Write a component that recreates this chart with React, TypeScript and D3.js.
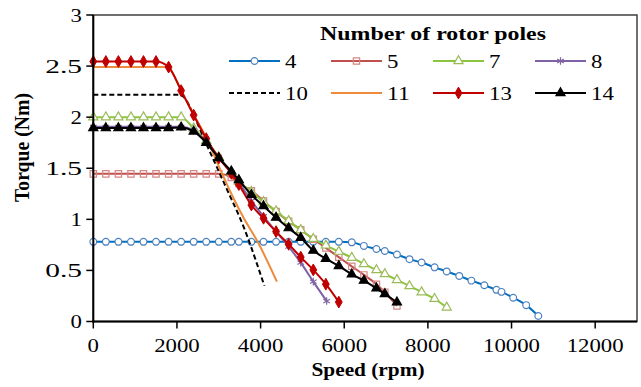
import * as d3 from "d3";

const W = 641;
const H = 387;
const margin = { left: 93.3, top: 15, right: 4, bottom: 65.5 };

const FONT = "Liberation Serif, Liberation Sans, DejaVu Sans, serif";

const xTicks = [0, 2000, 4000, 6000, 8000, 10000, 12000];
const yTicks = [0, 0.5, 1, 1.5, 2, 2.5, 3];
const yTickLabels = ["0", "0.5", "1", "1.5", "2", "2.5", "3"];

// [speed (rpm), torque (Nm)]
const poles4: [number, number][] = [
  [0, 0.78], [300, 0.78], [600, 0.78], [900, 0.78], [1200, 0.78], [1500, 0.78],
  [1800, 0.78], [2100, 0.78], [2400, 0.78], [2700, 0.78], [3000, 0.78], [3300, 0.78],
  [3480, 0.78], [3780, 0.78], [4070, 0.78], [4370, 0.78], [4670, 0.78], [4960, 0.78],
  [5260, 0.78], [5560, 0.78], [5870, 0.78], [6180, 0.775], [6470, 0.74], [6770, 0.71],
  [6970, 0.69], [7260, 0.655], [7560, 0.61], [7850, 0.577], [8160, 0.53], [8450, 0.49],
  [8750, 0.446], [9040, 0.4], [9350, 0.355], [9640, 0.31], [9760, 0.29], [10040, 0.233],
  [10350, 0.16], [10640, 0.054],
];

const poles5: [number, number][] = [
  [0, 1.445], [300, 1.445], [600, 1.445], [900, 1.445], [1200, 1.445], [1500, 1.445],
  [1800, 1.445], [2100, 1.445], [2400, 1.445], [2700, 1.445], [3000, 1.445], [3300, 1.41],
  [3480, 1.35], [3780, 1.28], [4070, 1.18], [4370, 1.077], [4670, 0.98], [4960, 0.897],
  [5260, 0.806], [5560, 0.72], [5870, 0.63], [6180, 0.54], [6470, 0.456], [6770, 0.365],
  [6970, 0.287], [7260, 0.152],
];

const poles7: [number, number][] = [
  [0, 2.0], [300, 2.0], [600, 2.0], [900, 2.0], [1200, 2.0], [1500, 2.0], [1800, 2.0],
  [2100, 2.0], [2400, 1.89], [2700, 1.77], [3000, 1.61], [3300, 1.46], [3480, 1.37],
  [3780, 1.27], [4070, 1.17], [4370, 1.08], [4670, 0.985], [4960, 0.897], [5260, 0.81],
  [5560, 0.745], [5870, 0.684], [6180, 0.625], [6470, 0.563], [6770, 0.504], [6970, 0.465],
  [7260, 0.407], [7560, 0.348], [7850, 0.287], [8160, 0.222], [8450, 0.138],
];

const poles8: [number, number][] = [
  [0, 1.905], [300, 1.905], [600, 1.905], [900, 1.905], [1200, 1.905], [1500, 1.905],
  [1800, 1.905], [2100, 1.905], [2400, 1.87], [2700, 1.76], [3000, 1.61], [3300, 1.46],
  [3480, 1.36], [3780, 1.18], [4070, 1.03], [4370, 0.88], [4670, 0.733], [4960, 0.576],
  [5260, 0.39], [5580, 0.2],
];

const poles10: [number, number][] = [
  [0, 2.22], [1000, 2.22], [2064, 2.22], [2200, 2.18], [2400, 2.02], [2700, 1.74],
  [3000, 1.47], [3300, 1.2], [3500, 1.02], [3730, 0.78], [3900, 0.58], [4090, 0.35],
];

const poles11: [number, number][] = [
  [0, 2.49], [1000, 2.49], [1720, 2.49], [1850, 2.46], [2000, 2.35], [2300, 2.1],
  [2700, 1.8], [3000, 1.52], [3300, 1.25], [3600, 1.01], [3930, 0.78], [4390, 0.39],
];

const poles13: [number, number][] = [
  [0, 2.545], [300, 2.545], [600, 2.545], [900, 2.545], [1200, 2.545], [1500, 2.545],
  [1800, 2.49], [2100, 2.26], [2400, 2.02], [2700, 1.79], [3000, 1.6], [3300, 1.45],
  [3480, 1.34], [3780, 1.14], [4070, 1.01], [4370, 0.88], [4670, 0.757], [4960, 0.63],
  [5260, 0.505], [5560, 0.365], [5870, 0.19],
];

const poles14: [number, number][] = [
  [0, 1.894], [300, 1.894], [600, 1.894], [900, 1.894], [1200, 1.894], [1500, 1.894],
  [1800, 1.894], [2100, 1.9], [2400, 1.86], [2700, 1.75], [3000, 1.6], [3300, 1.47],
  [3480, 1.385], [3780, 1.24], [4070, 1.13], [4370, 1.018], [4670, 0.914], [4960, 0.82],
  [5260, 0.694], [5560, 0.615], [5870, 0.544], [6180, 0.462], [6470, 0.4], [6770, 0.325],
  [6970, 0.27], [7260, 0.188],
];

type Marker = "circle" | "square" | "triangle" | "asterisk" | "diamond" | "none";

interface Series {
  label: string;
  data: [number, number][];
  color: string;
  marker: Marker;
  markerStroke: string;
  markerFill: string;
  dash?: string;
}

const series: Series[] = [
  { label: "4", data: poles4, color: "#0070C0", marker: "circle", markerStroke: "#4F81BD", markerFill: "#fff" },
  { label: "5", data: poles5, color: "#C0504D", marker: "square", markerStroke: "#D48683", markerFill: "none" },
  { label: "7", data: poles7, color: "#8CC63F", marker: "triangle", markerStroke: "#9BBB59", markerFill: "#fff" },
  { label: "8", data: poles8, color: "#7F62A6", marker: "asterisk", markerStroke: "#8064A2", markerFill: "none" },
  { label: "10", data: poles10, color: "#000", marker: "none", markerStroke: "none", markerFill: "none", dash: "5,3" },
  { label: "11", data: poles11, color: "#EE8A3C", marker: "none", markerStroke: "none", markerFill: "none" },
  { label: "13", data: poles13, color: "#C00000", marker: "diamond", markerStroke: "#C00000", markerFill: "#C00000" },
  { label: "14", data: poles14, color: "#000", marker: "triangle", markerStroke: "#000", markerFill: "#000" },
];

const symbolFor: Record<string, { type: d3.SymbolType; size: number }> = {
  circle: { type: d3.symbolCircle, size: 36 },
  square: { type: d3.symbolSquare, size: 40 },
  triangle: { type: d3.symbolTriangle, size: 36 },
  asterisk: { type: d3.symbolAsterisk, size: 40 },
  diamond: { type: d3.symbolDiamond, size: 40 },
};

function MarkerPath({ s, x, y }: { s: Series; x: number; y: number }) {
  if (s.marker === "none") return null;
  const sym = symbolFor[s.marker];
  const d = d3.symbol().type(sym.type).size(sym.size)() || "";
  return (
    <path
      d={d}
      transform={`translate(${x},${y})`}
      fill={s.markerFill}
      stroke={s.markerStroke}
      strokeWidth={s.marker === "diamond" ? 1 : 1.2}
    />
  );
}

// width of a number label in the picture: ~11.4px per digit, ~14px per dot
const labelWidth = (s: string) =>
  s.split("").reduce((w, c) => w + (c === "." ? 14 : 11.4), 0);

function NumText(props: { x: number; y: number; anchor?: string; children: string }) {
  const { x, y, anchor = "middle", children } = props;
  return (
    <text
      x={x}
      y={y}
      textAnchor={anchor}
      style={{ fontFamily: FONT, fontSize: 18 }}
      textLength={labelWidth(children)}
      lengthAdjust="spacingAndGlyphs"
      fill="#000"
    >
      {children}
    </text>
  );
}

export default function App() {
  const x = d3.scaleLinear().domain([0, 13000]).range([margin.left, W - margin.right]);
  const y = d3.scaleLinear().domain([0, 3]).range([H - margin.bottom, margin.top]);
  const line = d3
    .line<[number, number]>()
    .x((d) => x(d[0]))
    .y((d) => y(d[1]))
    .curve(d3.curveMonotoneX);

  const x0 = x(0);
  const x1 = x(13000);
  const y0 = y(0);
  const y1 = y(3);

  const legCols = [229, 331, 433, 535];
  const legRows = [61, 93];

  const boldTitle = { fontFamily: FONT, fontSize: 19, fontWeight: "bold" as const };

  return (
    <svg
      width={W}
      height={H}
      style={{ position: "absolute", left: 0, top: 0, background: "#fff" }}
    >
      {/* frame */}
      <rect x={x0} y={y1} width={x1 - x0} height={y0 - y1} fill="none" stroke="#404040" strokeWidth={1.5} />

      {/* series */}
      {series.map((s) => (
        <g key={s.label}>
          <path
            d={line(s.data) || ""}
            fill="none"
            stroke={s.color}
            strokeWidth={2}
            strokeDasharray={s.dash}
          />
          {s.marker !== "none" &&
            s.data.map((d, i) => <MarkerPath key={i} s={s} x={x(d[0])} y={y(d[1])} />)}
        </g>
      ))}

      {/* axes */}
      <line x1={x0} x2={x0} y1={y1} y2={y0 + 1} stroke="#000" strokeWidth={2} />
      <line x1={x0 - 1} x2={x1} y1={y0} y2={y0} stroke="#000" strokeWidth={2} />
      {yTicks.map((t, i) => (
        <g key={"y" + t}>
          <line x1={x0 - 7} x2={x0} y1={y(t)} y2={y(t)} stroke="#000" strokeWidth={1.5} />
          <NumText x={82} y={y(t) + 6.5} anchor="end">
            {yTickLabels[i]}
          </NumText>
        </g>
      ))}
      {xTicks.map((t) => (
        <g key={"x" + t}>
          <line x1={x(t)} x2={x(t)} y1={y0} y2={y0 + 7} stroke="#000" strokeWidth={1.5} />
          <NumText x={x(t)} y={352}>
            {d3.format("d")(t)}
          </NumText>
        </g>
      ))}

      {/* axis titles */}
      <text
        x={368}
        y={376}
        textAnchor="middle"
        style={boldTitle}
        textLength={113}
        lengthAdjust="spacingAndGlyphs"
      >
        Speed (rpm)
      </text>
      <text
        transform={`translate(29,147.5) rotate(-90)`}
        textAnchor="middle"
        style={{ ...boldTitle, fontSize: 20 }}
        textLength={109}
        lengthAdjust="spacingAndGlyphs"
      >
        Torque (Nm)
      </text>

      {/* legend */}
      <text
        x={433}
        y={40}
        textAnchor="middle"
        style={boldTitle}
        textLength={226}
        lengthAdjust="spacingAndGlyphs"
      >
        Number of rotor poles
      </text>
      {series.map((s, i) => {
        const lx = legCols[i % 4];
        const ly = legRows[Math.floor(i / 4)];
        return (
          <g key={"leg" + s.label}>
            <line
              x1={lx}
              x2={lx + 51}
              y1={ly}
              y2={ly}
              stroke={s.color}
              strokeWidth={2}
              strokeDasharray={s.dash}
            />
            <MarkerPath s={s} x={lx + 25.5} y={ly} />
            <NumText x={lx + 56} y={ly + 6.5} anchor="start">
              {s.label}
            </NumText>
          </g>
        );
      })}
    </svg>
  );
}
